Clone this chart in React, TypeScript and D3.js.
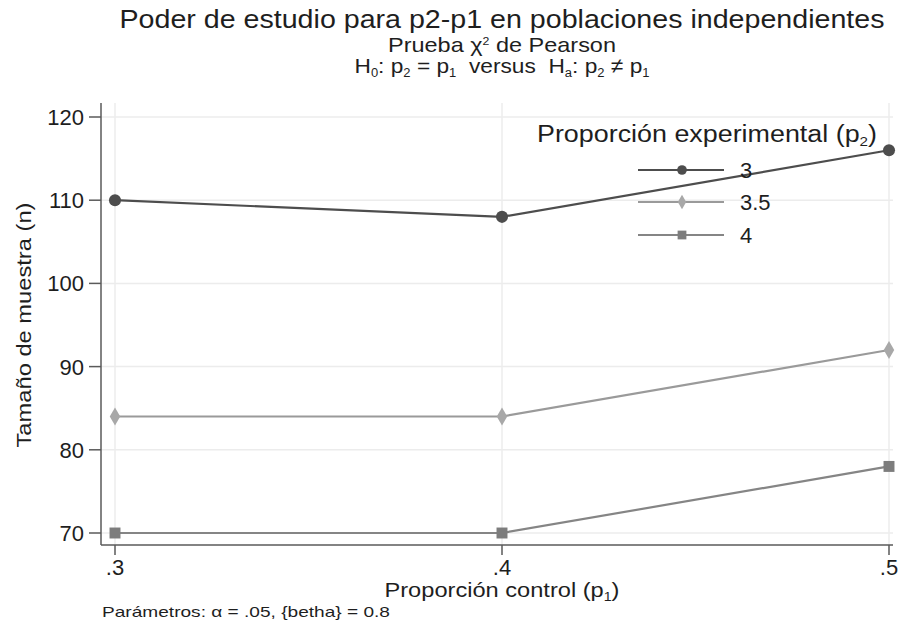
import React from 'react';
import * as d3 from 'd3';

const controlProps = [0.3, 0.4, 0.5];
const xTickLabels = ['.3', '.4', '.5'];
const yTicks = [70, 80, 90, 100, 110, 120];
const seriesNames = ['3', '3.5', '4'];
const n3 = [110, 108, 116];
const n35 = [84, 84, 92];
const n4 = [70, 70, 78];

const seriesValues = [n3, n35, n4];
const lineColours = ['#4d4d4d', '#9a9a9a', '#858585'];
const markerColours = ['#4d4d4d', '#a8a8a8', '#7d7d7d'];
const markerShapes = [d3.symbolCircle, d3.symbolDiamond, d3.symbolSquare];
const markerSizes = [115, 95, 120];

const W = 899;
const H = 640;
const FONT = '"Liberation Sans", Arial, Helvetica, sans-serif';
const INK = '#1e1e1e';

export default function App() {
  const left = 101, right = 893, top = 103, bottom = 545;
  const x = d3.scaleLinear().domain([0.3, 0.5]).range([115, 889]);
  const y = d3.scaleLinear().domain([70, 120]).range([533, 117]);

  const line = d3.line<number>()
    .x((d, i) => x(controlProps[i]))
    .y(d => y(d));

  const symbol = (i: number) =>
    d3.symbol().type(markerShapes[i]).size(markerSizes[i])();

  const legendY = [170, 202, 235];

  return (
    <svg width={W} height={H} style={{ position: 'absolute', left: 0, top: 0, background: '#fff' }}
      fontFamily={FONT}>
      <rect width={W} height={H} fill="#fff" />
      {/* titles */}
      <text x={502} y={28} textAnchor="middle" fontSize={25} fill={INK}
        textLength={765} lengthAdjust="spacingAndGlyphs">
        Poder de estudio para p2-p1 en poblaciones independientes
      </text>
      <text x={502} y={52} textAnchor="middle" fontSize={21} fill={INK}
        textLength={228} lengthAdjust="spacingAndGlyphs">
        Prueba χ<tspan fontSize={11} dy={-7}>2</tspan><tspan dy={7}> de Pearson</tspan>
      </text>
      <text x={502} y={73} textAnchor="middle" fontSize={21} fill={INK}
        textLength={295} lengthAdjust="spacingAndGlyphs">
        H<tspan fontSize={12} dy={4}>0</tspan><tspan dy={-4}>: p</tspan>
        <tspan fontSize={12} dy={4}>2</tspan><tspan dy={-4}> = p</tspan>
        <tspan fontSize={12} dy={4}>1</tspan><tspan dy={-4}>{'\u00a0 versus \u00a0H'}</tspan>
        <tspan fontSize={12} dy={4}>a</tspan><tspan dy={-4}>: p</tspan>
        <tspan fontSize={12} dy={4}>2</tspan><tspan dy={-4}> ≠ p</tspan>
        <tspan fontSize={12} dy={4}>1</tspan>
      </text>

      {/* grid */}
      {yTicks.map(t => (
        <line key={'gy' + t} x1={left} x2={right} y1={y(t)} y2={y(t)} stroke="#ececec" strokeWidth={1.5} />
      ))}
      {controlProps.map(t => (
        <line key={'gx' + t} x1={x(t)} x2={x(t)} y1={top} y2={bottom} stroke="#ececec" strokeWidth={1.5} />
      ))}

      {/* axes */}
      <line x1={left} x2={left} y1={top} y2={bottom} stroke="#5a5a5a" strokeWidth={1.5} />
      <line x1={left} x2={right} y1={bottom} y2={bottom} stroke="#5a5a5a" strokeWidth={1.5} />
      {yTicks.map(t => (
        <g key={'ty' + t}>
          <line x1={left - 12} x2={left} y1={y(t)} y2={y(t)} stroke="#5a5a5a" strokeWidth={1.5} />
          <text x={84} y={y(t) + 8} textAnchor="end" fontSize={22} fill={INK}>{t}</text>
        </g>
      ))}
      {controlProps.map((t, i) => (
        <g key={'tx' + t}>
          <line x1={x(t)} x2={x(t)} y1={bottom} y2={bottom + 10} stroke="#5a5a5a" strokeWidth={1.5} />
          <text x={x(t)} y={bottom + 30} textAnchor="middle" fontSize={22} fill={INK}>{xTickLabels[i]}</text>
        </g>
      ))}
      <text transform={`translate(31,${y(95)}) rotate(-90)`} textAnchor="middle" fontSize={20} fill={INK}
        textLength={245} lengthAdjust="spacingAndGlyphs">
        Tamaño de muestra (n)
      </text>
      <text x={502} y={597} textAnchor="middle" fontSize={20} fill={INK}
        textLength={235} lengthAdjust="spacingAndGlyphs">
        Proporción control (p<tspan fontSize={12} dy={4}>1</tspan><tspan dy={-4}>)</tspan>
      </text>
      <text x={102} y={617} fontSize={15} fill={INK}
        textLength={288} lengthAdjust="spacingAndGlyphs">
        Parámetros: α = .05, {'{betha}'} = 0.8
      </text>

      {/* series */}
      {seriesValues.map((vals, i) => (
        <g key={'s' + i}>
          <path d={line(vals) || ''} fill="none" stroke={lineColours[i]} strokeWidth={2.2} />
          {vals.map((v, j) => (
            <path key={j} d={symbol(i) || ''} transform={`translate(${x(controlProps[j])},${y(v)})`}
              fill={markerColours[i]} />
          ))}
        </g>
      ))}

      {/* legend */}
      <text x={707} y={142} textAnchor="middle" fontSize={23} fill={INK}
        textLength={340} lengthAdjust="spacingAndGlyphs">
        Proporción experimental (p<tspan fontSize={13} dy={4}>2</tspan><tspan dy={-4}>)</tspan>
      </text>
      {seriesNames.map((nm, i) => (
        <g key={'l' + i}>
          <line x1={638} x2={724} y1={legendY[i]} y2={legendY[i]} stroke={lineColours[i]} strokeWidth={2.2} />
          <path d={symbol(i) || ''} transform={`translate(682,${legendY[i]}) scale(0.8)`} fill={markerColours[i]} />
          <text x={740} y={legendY[i] + 8} fontSize={22} fill={INK}>{nm}</text>
        </g>
      ))}
    </svg>
  );
}
